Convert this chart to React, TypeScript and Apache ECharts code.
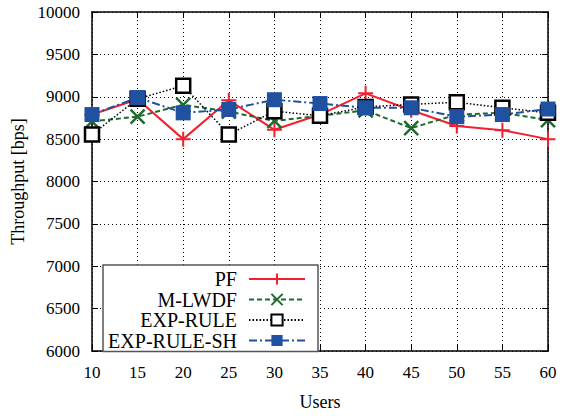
import React, { useEffect, useRef } from "react";
import * as echarts from "echarts";

const users = [10, 15, 20, 25, 30, 35, 40, 45, 50, 55, 60];
const pf = [8790, 8970, 8500, 8960, 8610, 8790, 9040, 8840, 8655, 8605, 8500];
const mlwdf = [8710, 8765, 8905, 8825, 8715, 8775, 8840, 8630, 8790, 8810, 8725];
const expRule = [8555, 8975, 9130, 8555, 8830, 8775, 8880, 8910, 8935, 8870, 8810];
const expRuleSh = [8790, 8990, 8810, 8850, 8965, 8920, 8870, 8870, 8765, 8790, 8855];
const seriesNames = ["PF", "M-LWDF", "EXP-RULE", "EXP-RULE-SH"];

const FONT = "Liberation Serif";
const plus = "path://M10,0 L10,20 M0,10 L20,10";
const cross = "path://M0,0 L20,20 M20,0 L0,20";

const pairs = (v: number[]) => users.map((u, i) => [u, v[i]]);

export default function App() {
  const ref = useRef<HTMLDivElement>(null);
  useEffect(() => {
    const chart = echarts.init(ref.current!, null, { renderer: "svg" });
    const axisCommon = {
      axisLine: { show: true, onZero: false, lineStyle: { color: "#000", width: 1.5 } },
      axisTick: { show: true, inside: true, length: 6, lineStyle: { color: "#000", width: 1 } },
    };
    chart.setOption({
      animation: false,
      backgroundColor: "#fff",
      grid: { left: 92, right: 17, top: 12, bottom: 62 },
      xAxis: [
        {
          type: "value", min: 10, max: 60, interval: 5,
          name: "Users", nameLocation: "middle", nameGap: 42,
          nameTextStyle: { fontFamily: FONT, fontSize: 18, color: "#000" },
          ...axisCommon,
          axisLabel: { fontFamily: FONT, fontSize: 17, color: "#000", margin: 13, formatter: (v: number) => String(v) },
          splitLine: { show: true, lineStyle: { color: "#000", type: [1, 3], width: 1 } },
        },
        {
          type: "value", min: 10, max: 60, interval: 5, position: "top",
          ...axisCommon, axisLabel: { show: false }, splitLine: { show: false },
        },
      ],
      yAxis: [
        {
          type: "value", min: 6000, max: 10000, interval: 500,
          name: "Throughput [bps]", nameLocation: "middle", nameGap: 60,
          nameTextStyle: { fontFamily: FONT, fontSize: 18, color: "#000" },
          ...axisCommon,
          axisLabel: { fontFamily: FONT, fontSize: 17, color: "#000", margin: 12, formatter: (v: number) => String(v) },
          splitLine: { show: true, lineStyle: { color: "#000", type: [1, 3], width: 1 } },
        },
        {
          type: "value", min: 6000, max: 10000, interval: 500, position: "right",
          ...axisCommon, axisLabel: { show: false }, splitLine: { show: false },
        },
      ],
      legend: {
        orient: "vertical",
        left: 103,
        top: 265,
        align: "right",
        padding: [4, 12, 1, 2],
        itemGap: 0.5,
        itemWidth: 56,
        itemHeight: 14,
        backgroundColor: "#fff",
        borderColor: "#555",
        borderWidth: 1.5,
        borderRadius: 0,
        data: seriesNames,
        formatter: "{a|{name}}",
        textStyle: {
          rich: {
            a: { fontFamily: FONT, fontSize: 20, color: "#000", width: 132, align: "right", lineHeight: 20, padding: [0, 7, 0, 0] },
          },
        },
      },
      series: [
        {
          name: "PF", type: "line", data: pairs(pf),
          symbol: plus, symbolSize: 15,
          itemStyle: { color: "#f02030", borderColor: "#f02030", borderWidth: 2 },
          lineStyle: { color: "#f02030", width: 2, type: "solid" },
        },
        {
          name: "M-LWDF", type: "line", data: pairs(mlwdf),
          symbol: cross, symbolSize: 14,
          itemStyle: { color: "#1f6b2e", borderColor: "#1f6b2e", borderWidth: 2.5 },
          lineStyle: { color: "#1f6b2e", width: 2, type: [5, 3] },
        },
        {
          name: "EXP-RULE", type: "line", data: pairs(expRule),
          symbol: "rect", symbolSize: 14,
          itemStyle: { color: "#fff", borderColor: "#000", borderWidth: 2.5 },
          lineStyle: { color: "#000", width: 1.5, type: [1.5, 2] },
        },
        {
          name: "EXP-RULE-SH", type: "line", data: pairs(expRuleSh),
          symbol: "rect", symbolSize: 15,
          itemStyle: { color: "#2050a0", borderColor: "#2050a0", borderWidth: 0 },
          lineStyle: { color: "#2050a0", width: 2, type: [8, 3, 2, 3] },
        },
      ],
    });
    return () => chart.dispose();
  }, []);
  return <div ref={ref} style={{ width: 565, height: 416, position: "absolute", left: 0, top: 0 }} />;
}
